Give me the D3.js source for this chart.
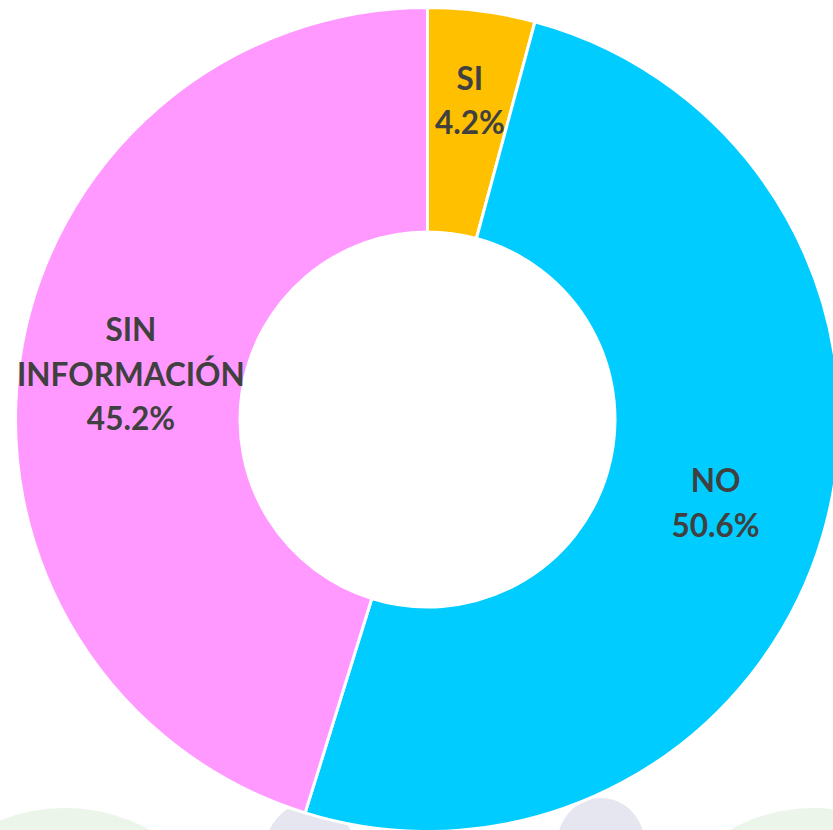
<!DOCTYPE html>
<html>
<head>
<meta charset="utf-8">
<script src="https://cdn.jsdelivr.net/npm/d3@7"></script>
<style>
  body { margin: 0; background: #ffffff; }
  svg { display: block; }
</style>
</head>
<body>
<div class="chart"></div>
<script>
const FRAME_WIDTH = 833;
const FRAME_HEIGHT = 830;

// data
const CATEGORIES = ["SI", "NO", "SIN\nINFORMACIÓN"];
const VALUES = [4.2, 50.6, 45.2];
const COLORS = ["#FFC000", "#00CCFF", "#FF99FF"];

const CENTER = {x: 427.5, y: 419.5};
const OUTER_R = 412;
const INNER_R = 187.5;
const LABEL_R = 300;

const FRAME = d3.select(".chart")
                .append("svg")
                .attr("width", FRAME_WIDTH)
                .attr("height", FRAME_HEIGHT);

// faint background shapes at the bottom of the slide
const BG = FRAME.append("g").attr("class", "bg");
BG.append("circle").attr("cx", 65).attr("cy", 983).attr("r", 175).attr("fill", "#ebf5e9");
BG.append("ellipse").attr("cx", 310).attr("cy", 862).attr("rx", 48).attr("ry", 60).attr("fill", "#e5e6f0");
BG.append("ellipse").attr("cx", 601).attr("cy", 845).attr("rx", 44).attr("ry", 47).attr("fill", "#e5e6f0");
BG.append("circle").attr("cx", 813).attr("cy", 976).attr("r", 168).attr("fill", "#ebf5e9");

const G = FRAME.append("g")
               .attr("transform", "translate(" + CENTER.x + "," + CENTER.y + ")");

const pie = d3.pie().sort(null).value(d => d.value);
const data = CATEGORIES.map((c, i) => ({name: c, value: VALUES[i], color: COLORS[i]}));
const arcs = pie(data);

const arc = d3.arc().innerRadius(INNER_R).outerRadius(OUTER_R);
const labelArc = d3.arc().innerRadius(LABEL_R).outerRadius(LABEL_R);

G.selectAll("path.slice")
    .data(arcs)
    .enter()
    .append("path")
        .attr("class", "slice")
        .attr("d", arc)
        .attr("fill", d => d.data.color)
        .attr("stroke", "#ffffff")
        .attr("stroke-width", 3)
        .attr("stroke-linejoin", "round");

const LINE_H = 44.5;

const labels = G.selectAll("text.lbl")
    .data(arcs)
    .enter()
    .append("text")
        .attr("class", "lbl")
        .attr("text-anchor", "middle")
        .attr("font-family", "Lato, 'Open Sans', sans-serif")
        .attr("font-weight", "bold")
        .attr("font-size", "31.5px")
        .attr("fill", "#404040")
        .attr("transform", d => {
            let c = labelArc.centroid(d);
            // narrow slice: label pushed outwards
            if (d.endAngle - d.startAngle < 0.4) {
                const k = (LABEL_R + 22) / LABEL_R;
                c = [c[0] * k, c[1] * k];
            }
            return "translate(" + c[0] + "," + c[1] + ")";
        });

labels.each(function(d) {
    const lines = d.data.name.split("\n").concat([d.data.value.toFixed(1) + "%"]);
    const n = lines.length;
    const t = d3.select(this);
    lines.forEach((line, i) => {
        t.append("tspan")
            .attr("x", 0)
            .attr("y", (i - (n - 1) / 2) * LINE_H + 11.5)
            .text(line);
    });
});
</script>
</body>
</html>
